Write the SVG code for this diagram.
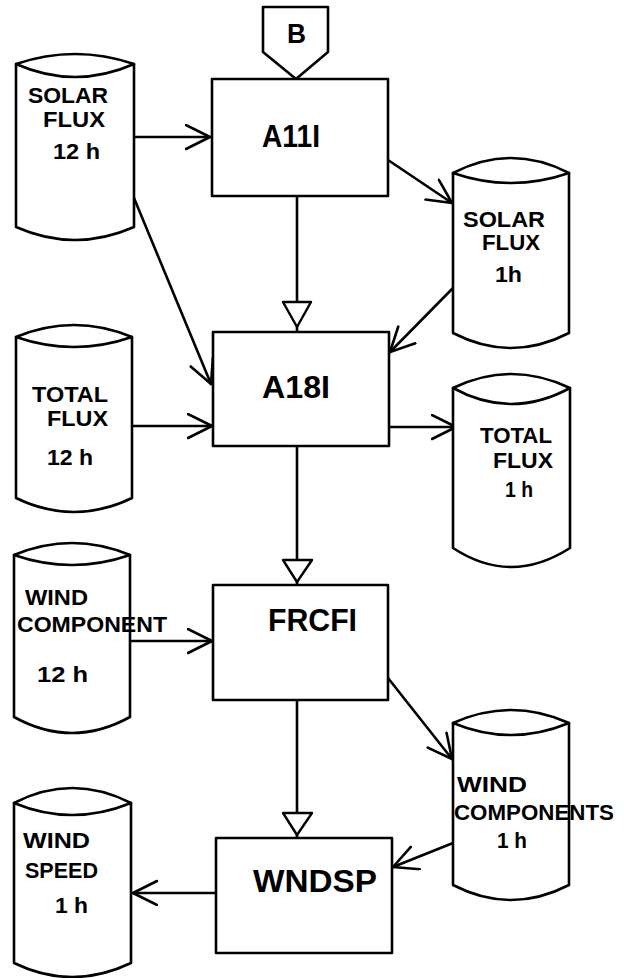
<svg xmlns="http://www.w3.org/2000/svg" width="624" height="978" viewBox="0 0 624 978">
<style>
.shape{fill:#fff;stroke:#000;stroke-width:2.6;stroke-linejoin:round}
.line{fill:none;stroke:#000;stroke-width:2.6;stroke-linecap:round}
.tri{fill:#fff;stroke:#000;stroke-width:2.4;stroke-linejoin:round}
text{font-family:"Liberation Sans",Arial,sans-serif;font-weight:bold;fill:#000}
.lbl{font-size:22px}
.big{font-size:31px}
</style>
<defs>
<marker id="open" markerUnits="userSpaceOnUse" markerWidth="30" markerHeight="30" viewBox="0 0 30 30" refX="25" refY="13" orient="auto">
<path d="M1,1 L25,13 L1,25" fill="none" stroke="#000" stroke-width="2.6" stroke-linecap="round" stroke-linejoin="round"/>
</marker>
</defs>
<rect width="624" height="978" fill="#fff"/>

<g id="connectors">
<line class="line" x1="134" y1="137" x2="210" y2="137" marker-end="url(#open)"/>
<line class="line" x1="134" y1="198" x2="211" y2="384" marker-end="url(#open)"/>
<line class="line" x1="388" y1="160" x2="452" y2="203" marker-end="url(#open)"/>
<line class="line" x1="453" y1="288" x2="390" y2="352" marker-end="url(#open)"/>
<line class="line" x1="132" y1="426" x2="212" y2="426" marker-end="url(#open)"/>
<line class="line" x1="389" y1="427" x2="456" y2="427" marker-end="url(#open)"/>
<line class="line" x1="130" y1="641" x2="212" y2="641" marker-end="url(#open)"/>
<line class="line" x1="388" y1="678" x2="452" y2="759" marker-end="url(#open)"/>
<line class="line" x1="453" y1="843" x2="393" y2="867" marker-end="url(#open)"/>
<line class="line" x1="216" y1="893" x2="133" y2="893" marker-end="url(#open)"/>
<line class="line" x1="297" y1="196" x2="297" y2="332"/>
<polygon class="tri" points="283,302 311,302 297,327"/>
<line class="line" x1="297" y1="446" x2="297" y2="585"/>
<polygon class="tri" points="283,560 312,560 297,582"/>
<line class="line" x1="297" y1="700" x2="297" y2="838"/>
<polygon class="tri" points="283,813 312,813 297,835"/>
</g>

<g id="B">
<polygon class="shape" points="263,7 328,7 328,52 296,79 263,52"/>
<text x="287" y="43" style="font-size:28px" textLength="19" lengthAdjust="spacingAndGlyphs">B</text>
</g>

<g id="A11I">
<rect class="shape" x="212" y="79" width="176" height="117"/>
<text class="big" x="262" y="147" textLength="58" lengthAdjust="spacingAndGlyphs">A11I</text>
</g>

<g id="A18I">
<rect class="shape" x="213" y="332" width="176" height="114"/>
<text class="big" x="262" y="398" textLength="68" lengthAdjust="spacingAndGlyphs">A18I</text>
</g>

<g id="FRCFI">
<rect class="shape" x="213" y="585" width="175" height="115"/>
<text class="big" x="268" y="631" textLength="89" lengthAdjust="spacingAndGlyphs">FRCFI</text>
</g>

<g id="WNDSP">
<rect class="shape" x="216" y="838" width="176" height="115"/>
<text class="big" x="253" y="892" textLength="124" lengthAdjust="spacingAndGlyphs">WNDSP</text>
</g>

<g id="solar-flux-12h">
<path class="shape" d="M16,64 V227 Q75,253 134,227 V64 Q75,44 16,64 Z"/>
<path class="line" d="M16,64 Q75,90 134,64"/>
<text class="lbl" x="28" y="103" textLength="80" lengthAdjust="spacingAndGlyphs">SOLAR</text>
<text class="lbl" x="43" y="127" textLength="62" lengthAdjust="spacingAndGlyphs">FLUX</text>
<text class="lbl" x="53" y="159" textLength="47" lengthAdjust="spacingAndGlyphs">12 h</text>
</g>

<g id="solar-flux-1h">
<path class="shape" d="M453,173 V333 Q511,363 569,333 V173 Q511,143 453,173 Z"/>
<path class="line" d="M453,173 Q511,193 569,173"/>
<text class="lbl" x="463" y="227" textLength="82" lengthAdjust="spacingAndGlyphs">SOLAR</text>
<text class="lbl" x="482" y="250" textLength="58" lengthAdjust="spacingAndGlyphs">FLUX</text>
<text class="lbl" x="495" y="282" textLength="27" lengthAdjust="spacingAndGlyphs">1h</text>
</g>

<g id="total-flux-12h">
<path class="shape" d="M16,337 V498 Q74,526 132,498 V337 Q74,313 16,337 Z"/>
<path class="line" d="M16,337 Q74,357 132,337"/>
<text class="lbl" x="32" y="402" textLength="76" lengthAdjust="spacingAndGlyphs">TOTAL</text>
<text class="lbl" x="47" y="426" textLength="61" lengthAdjust="spacingAndGlyphs">FLUX</text>
<text class="lbl" x="47" y="465" textLength="46" lengthAdjust="spacingAndGlyphs">12 h</text>
</g>

<g id="total-flux-1h">
<path class="shape" d="M453,388 V548 Q511,586 570,548 V388 Q511,360 453,388 Z"/>
<path class="line" d="M453,388 Q511,420 570,388"/>
<text class="lbl" x="480" y="443" textLength="72" lengthAdjust="spacingAndGlyphs">TOTAL</text>
<text class="lbl" x="493" y="468" textLength="60" lengthAdjust="spacingAndGlyphs">FLUX</text>
<text class="lbl" x="505" y="497" textLength="28" lengthAdjust="spacingAndGlyphs">1 h</text>
</g>

<g id="wind-component-12h">
<path class="shape" d="M14,555 V717 Q72,749 130,717 V555 Q72,531 14,555 Z"/>
<path class="line" d="M14,555 Q72,575 130,555"/>
<text class="lbl" x="25" y="605" textLength="63" lengthAdjust="spacingAndGlyphs">WIND</text>
<text class="lbl" x="17" y="632" textLength="150" lengthAdjust="spacingAndGlyphs">COMPONENT</text>
<text class="lbl" x="37" y="682" textLength="51" lengthAdjust="spacingAndGlyphs">12 h</text>
</g>

<g id="wind-components-1h">
<path class="shape" d="M453,723 V885 Q511,915 569,885 V723 Q511,697 453,723 Z"/>
<path class="line" d="M453,723 Q511,747 569,723"/>
<text class="lbl" x="457" y="792" textLength="70" lengthAdjust="spacingAndGlyphs">WIND</text>
<text class="lbl" x="454" y="820" textLength="160" lengthAdjust="spacingAndGlyphs">COMPONENTS</text>
<text class="lbl" x="497" y="848" textLength="30" lengthAdjust="spacingAndGlyphs">1 h</text>
</g>

<g id="wind-speed-1h">
<path class="shape" d="M14,803 V963 Q72,991 131,963 V803 Q72,773 14,803 Z"/>
<path class="line" d="M14,803 Q72,827 131,803"/>
<text class="lbl" x="23" y="848" textLength="67" lengthAdjust="spacingAndGlyphs">WIND</text>
<text class="lbl" x="25" y="878" textLength="73" lengthAdjust="spacingAndGlyphs">SPEED</text>
<text class="lbl" x="55" y="913" textLength="33" lengthAdjust="spacingAndGlyphs">1 h</text>
</g>
</svg>
